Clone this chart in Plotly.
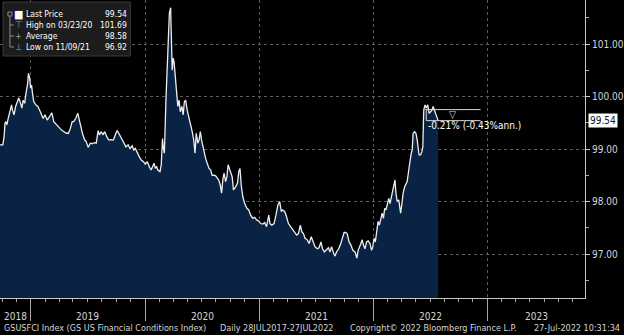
import plotly.graph_objects as go
import pandas as pd

# ---------------- data ----------------
dates = [
    "2018-09-24","2018-10-03","2018-10-07","2018-10-10","2018-10-13","2018-10-16","2018-10-20","2018-10-26",
    "2018-10-31","2018-11-03","2018-11-08","2018-11-13","2018-11-18","2018-11-23","2018-11-29","2018-12-03",
    "2018-12-07","2018-12-12","2018-12-16","2018-12-21","2018-12-24","2018-12-28","2018-12-31","2019-01-03",
    "2019-01-06","2019-01-10","2019-01-17","2019-01-23","2019-01-29","2019-02-04","2019-02-09","2019-02-15",
    "2019-02-22","2019-03-02","2019-03-09","2019-03-15","2019-03-24","2019-04-01","2019-04-09","2019-04-17",
    "2019-04-24","2019-05-01","2019-05-07","2019-05-13","2019-05-18","2019-05-24","2019-05-31","2019-06-06",
    "2019-06-11","2019-06-16","2019-06-22","2019-06-27","2019-07-03","2019-07-10","2019-07-16","2019-07-23",
    "2019-07-29","2019-08-04","2019-08-08","2019-08-14","2019-08-19","2019-08-25","2019-09-01","2019-09-07",
    "2019-09-15","2019-09-22","2019-09-28","2019-10-04","2019-10-09","2019-10-17","2019-10-24","2019-11-01",
    "2019-11-08","2019-11-14","2019-11-21","2019-11-26","2019-12-01","2019-12-07","2019-12-14","2019-12-20",
    "2019-12-27","2020-01-02","2020-01-08","2020-01-15","2020-01-21","2020-01-25","2020-01-30","2020-02-03",
    "2020-02-07","2020-02-11","2020-02-18","2020-02-22","2020-02-26","2020-02-29","2020-03-03","2020-03-08",
    "2020-03-13","2020-03-16","2020-03-19","2020-03-23","2020-03-24","2020-03-26","2020-03-28","2020-03-31",
    "2020-04-03","2020-04-06","2020-04-11","2020-04-15","2020-04-19","2020-04-23","2020-04-28","2020-05-02",
    "2020-05-06","2020-05-10","2020-05-15","2020-05-19","2020-05-23","2020-05-27","2020-05-31","2020-06-05",
    "2020-06-09","2020-06-13","2020-06-18","2020-06-22","2020-06-26","2020-06-30","2020-07-05","2020-07-09",
    "2020-07-13","2020-07-18","2020-07-24","2020-07-29","2020-08-03","2020-08-09","2020-08-14","2020-08-20",
    "2020-08-24","2020-08-29","2020-09-02","2020-09-06","2020-09-10","2020-09-15","2020-09-19","2020-09-23",
    "2020-09-28","2020-10-02","2020-10-06","2020-10-10","2020-10-17","2020-10-23","2020-10-27","2020-10-31",
    "2020-11-04","2020-11-09","2020-11-15","2020-11-22","2020-11-28","2020-12-04","2020-12-11","2020-12-17",
    "2020-12-23","2020-12-30","2021-01-05","2021-01-12","2021-01-18","2021-01-24","2021-01-31","2021-02-04",
    "2021-02-10","2021-02-17","2021-02-23","2021-03-01","2021-03-07","2021-03-12","2021-03-16","2021-03-23",
    "2021-03-29","2021-04-04","2021-04-11","2021-04-17","2021-04-23","2021-04-30","2021-05-06","2021-05-12",
    "2021-05-17","2021-05-22","2021-05-27","2021-06-03","2021-06-09","2021-06-16","2021-06-22","2021-06-28",
    "2021-07-05","2021-07-11","2021-07-17","2021-07-22","2021-07-28","2021-08-03","2021-08-10","2021-08-15",
    "2021-08-20","2021-08-27","2021-08-31","2021-09-05","2021-09-11","2021-09-17","2021-09-23","2021-09-29",
    "2021-10-04","2021-10-09","2021-10-15","2021-10-21","2021-10-27","2021-11-03","2021-11-09","2021-11-13",
    "2021-11-20","2021-11-26","2021-11-30","2021-12-05","2021-12-10","2021-12-15","2021-12-21","2021-12-26",
    "2021-12-30","2022-01-03","2022-01-07","2022-01-12","2022-01-16","2022-01-20","2022-01-25","2022-01-29",
    "2022-02-02","2022-02-06","2022-02-10","2022-02-15","2022-02-19","2022-02-23","2022-02-27","2022-03-04",
    "2022-03-08","2022-03-11","2022-03-14","2022-03-18","2022-03-23","2022-03-27","2022-03-29","2022-04-02",
    "2022-04-06","2022-04-11","2022-04-15","2022-04-19","2022-04-24","2022-04-28","2022-05-02","2022-05-05",
    "2022-05-08","2022-05-13","2022-05-17","2022-05-21","2022-05-23","2022-05-27","2022-06-01","2022-06-05",
    "2022-06-08","2022-06-11","2022-06-15","2022-06-19","2022-06-24","2022-06-28","2022-07-03","2022-07-07",
    "2022-07-11","2022-07-15","2022-07-21","2022-07-27",
]
values = [
    99.08,99.08,99.23,99.49,99.52,99.46,99.58,99.74,
    99.84,99.74,99.65,99.81,99.90,99.97,99.87,99.78,
    99.93,99.87,100.06,100.22,100.44,100.35,100.16,100.22,
    100.06,99.90,99.84,99.81,99.74,99.65,99.58,99.65,
    99.55,99.62,99.69,99.52,99.46,99.42,99.36,99.33,
    99.30,99.30,99.39,99.52,99.52,99.58,99.68,99.52,
    99.39,99.27,99.17,99.14,99.03,99.11,99.10,99.12,
    99.11,99.35,99.27,99.33,99.27,99.33,99.23,99.17,
    99.18,99.17,99.27,99.35,99.30,99.20,99.14,99.04,
    99.08,99.01,99.06,98.98,99.01,98.92,98.85,98.79,
    98.76,98.71,98.76,98.66,98.60,98.66,98.73,98.63,
    98.67,98.60,98.57,98.70,99.20,99.01,98.92,99.93,
    100.70,101.21,101.59,101.69,101.46,100.70,100.50,100.73,
    100.66,100.45,100.09,99.81,99.93,99.71,99.81,99.65,
    99.90,99.93,99.74,99.65,99.55,99.42,99.33,99.17,
    98.92,99.30,99.11,99.17,99.33,99.17,99.01,98.95,
    98.82,98.73,98.63,98.60,98.50,98.50,98.49,98.44,
    98.41,98.31,98.16,98.41,98.54,98.38,98.47,98.70,
    98.63,98.54,98.47,98.22,98.28,98.35,98.57,98.63,
    98.31,98.09,97.96,97.87,97.84,97.74,97.68,97.70,
    97.65,97.63,97.58,97.57,97.60,97.52,97.74,97.58,
    97.55,97.58,97.74,97.93,98.00,97.81,97.84,97.81,
    97.71,97.58,97.52,97.46,97.42,97.36,97.39,97.55,
    97.42,97.39,97.30,97.27,97.20,97.33,97.23,97.14,
    97.10,97.12,97.23,97.10,97.04,97.07,97.12,97.04,
    97.14,97.01,96.96,97.04,97.09,97.17,97.27,97.41,
    97.41,97.39,97.23,97.17,97.07,97.04,96.92,97.07,
    97.17,97.27,97.17,97.10,97.23,97.25,97.20,97.07,
    97.14,97.30,97.23,97.46,97.62,97.55,97.71,97.78,
    97.68,97.87,97.84,98.00,98.06,97.96,98.09,98.22,
    98.38,98.41,98.16,98.00,98.03,97.87,97.78,97.96,
    98.16,98.28,98.35,98.38,98.60,98.79,98.92,98.98,
    99.30,99.33,99.30,99.17,99.04,98.89,98.89,98.95,
    99.04,99.74,99.84,99.78,99.84,99.68,99.71,99.74,
    99.81,99.74,99.65,99.54,
]

legend_labels = ["Last Price", "High on 03/23/20", "Average", "Low on 11/09/21"]
legend_values = ["99.54", "101.69", "98.58", "96.92"]
legend_icons = ["\u25a0", "\u22a4", "+", "\u22a5"]

last_price = 99.54
ref_price = 99.75
change_text = "-0.21% (-0.43%ann.)"

year_labels = ["2018", "2019", "2020", "2021", "2022", "2023"]
x_start, x_end = "2018-09-24", "2023-11-09"
y_lo, y_hi = 96.162, 101.838
y_ticks = [97, 98, 99, 100, 101]

footer = [
    ("GSUSFCI Index (GS US Financial Conditions Index)", 2),
    ("Daily 28JUL2017-27JUL2022", 219),
    ("Copyright\u00a9 2022 Bloomberg Finance L.P.", 350),
    ("27-Jul-2022 10:31:34", 535),
]

# ---------------- style ----------------
W, H = 624, 335
ML, MR, MT, MB = 0, 36, 0, 37
PW, PH = W - ML - MR, H - MT - MB
FONT = "DejaVu Sans Condensed"
TXT = "#d6d6d6"
FILL = "#0a2244"
GRID = "#5c5c5c"

fig = go.Figure()
fig.add_trace(go.Scatter(
    x=dates, y=values, mode="lines",
    line=dict(color="#eeeeee", width=1.3),
    fill="tozeroy", fillcolor=FILL,
    hoverinfo="skip", showlegend=False,
))

# year boundary ticks and minor ticks
year_bounds = [f"{y}-01-01" for y in range(2019, 2024)]
minor_vals = []
for y in range(2018, 2024):
    for md in ["02-15", "04-01", "05-15", "07-01", "08-15", "10-01", "11-15"]:
        d = f"{y}-{md}"
        if x_start <= d <= x_end:
            minor_vals.append(d)

fig.update_xaxes(
    type="date", range=[x_start, x_end],
    tickmode="array", tickvals=year_bounds, showticklabels=False,
    ticks="outside", ticklen=22, tickcolor="#a8a8a8", tickwidth=1,
    showgrid=True, gridcolor=GRID, griddash="dot", gridwidth=1,
    showline=True, linecolor="#c8c8c8", linewidth=1,
    minor=dict(tickmode="array", tickvals=minor_vals, ticks="outside",
               ticklen=3, tickcolor="#a8a8a8", showgrid=False),
    zeroline=False, fixedrange=True,
)
fig.update_yaxes(
    side="right", range=[y_lo, y_hi],
    tickmode="array", tickvals=y_ticks, tickformat=".2f",
    ticks="outside", ticklen=4, tickcolor="#d0d0d0", tickwidth=1,
    tickfont=dict(family=FONT, size=10, color=TXT),
    showgrid=True, gridcolor=GRID, griddash="dot", gridwidth=1,
    showline=True, linecolor="#c8c8c8", linewidth=1,
    minor=dict(dtick=0.5, tick0=96, ticks="outside", ticklen=3,
               tickcolor="#a8a8a8", showgrid=False),
    zeroline=False, fixedrange=True,
)

annotations = []
shapes = []

# year labels centred in visible part of each year
xs, xe = pd.Timestamp(x_start), pd.Timestamp(x_end)
for yl in year_labels:
    lo = max(pd.Timestamp(f"{yl}-01-01"), xs)
    hi = min(pd.Timestamp(f"{int(yl)+1}-01-01"), xe)
    mid = lo + (hi - lo) / 2
    annotations.append(dict(
        x=mid.strftime("%Y-%m-%d"), xref="x", y=-18 / PH, yref="paper",
        text=yl, showarrow=False, xanchor="center", yanchor="middle",
        font=dict(family=FONT, size=10, color=TXT)))

# footer
for txt, px in footer:
    annotations.append(dict(
        x=px / PW, xref="paper", y=-30 / PH, yref="paper",
        text=txt, showarrow=False, xanchor="left", yanchor="middle",
        font=dict(family=FONT, size=9, color=TXT)))

# legend box
shapes.append(dict(type="rect", xref="paper", yref="paper",
                   x0=3 / PW, x1=131 / PW, y0=1 - 56 / PH, y1=1 - 2 / PH,
                   fillcolor="#1c1c1c", line=dict(color="#3a3a3a", width=1),
                   layer="above"))
rows_px = [14, 25, 36, 47]
for i, (lab, val, ic) in enumerate(zip(legend_labels, legend_values, legend_icons)):
    yy = 1 - rows_px[i] / PH
    annotations.append(dict(x=24 / PW, xref="paper", y=yy, yref="paper", text=lab,
                            showarrow=False, xanchor="left", yanchor="middle",
                            font=dict(family=FONT, size=8.5, color="#ffffff")))
    annotations.append(dict(x=130 / PW, xref="paper", y=yy, yref="paper", text=val,
                            showarrow=False, xanchor="right", yanchor="middle",
                            font=dict(family=FONT, size=8.5, color="#ffffff")))
    annotations.append(dict(x=19 / PW, xref="paper", y=yy, yref="paper", text=ic,
                            showarrow=False, xanchor="center", yanchor="middle",
                            font=dict(family=FONT, size=9 if i else 11,
                                      color="#ffffff" if i == 0 else "#9a9a9a")))
# tree lines in legend
shapes.append(dict(type="line", xref="paper", yref="paper",
                   x0=10 / PW, x1=10 / PW, y0=1 - 14 / PH, y1=1 - 47 / PH,
                   line=dict(color="#8a8a8a", width=1), layer="above"))
for r in rows_px[1:]:
    shapes.append(dict(type="line", xref="paper", yref="paper",
                       x0=10 / PW, x1=14 / PW, y0=1 - r / PH, y1=1 - r / PH,
                       line=dict(color="#8a8a8a", width=1), layer="above"))
shapes.append(dict(type="rect", xref="paper", yref="paper",
                   x0=8 / PW, x1=12 / PW, y0=1 - 16 / PH, y1=1 - 12 / PH,
                   fillcolor="#1c1c1c", line=dict(color="#8a8a8a", width=1),
                   layer="above"))

# change annotation near the end
c_x0, c_x1 = "2022-06-16", "2022-12-10"
shapes.append(dict(type="line", xref="x", yref="y", x0=c_x0, x1=c_x1,
                   y0=ref_price, y1=ref_price, line=dict(color="#d8d8d8", width=1)))
shapes.append(dict(type="line", xref="x", yref="y", x0="2022-06-19", x1=c_x1,
                   y0=last_price, y1=last_price, line=dict(color="#d8d8d8", width=1)))
shapes.append(dict(type="line", xref="x", yref="y", x0="2022-06-19", x1="2022-06-19",
                   y0=last_price, y1=ref_price, line=dict(color="#d8d8d8", width=1)))
annotations.append(dict(x="2022-09-12", xref="x", y=(last_price + ref_price) / 2 + 0.01,
                        yref="y", text="\u25bd", showarrow=False,
                        xanchor="center", yanchor="middle",
                        font=dict(family=FONT, size=10, color="#e0e0e0")))
annotations.append(dict(x="2022-06-17", xref="x", y=last_price - 0.1, yref="y",
                        text=change_text, showarrow=False, xanchor="left",
                        yanchor="middle",
                        font=dict(family=FONT, size=10, color="#ffffff")))

# last price tag on right axis
annotations.append(dict(x=1, xref="paper", xshift=3, y=last_price, yref="y",
                        text="99.54", showarrow=False, xanchor="left",
                        yanchor="middle", bgcolor="#ffffff", borderpad=1,
                        font=dict(family=FONT, size=10, color="#101828")))

fig.update_layout(
    width=W, height=H,
    margin=dict(l=ML, r=MR, t=MT, b=MB),
    paper_bgcolor="#000000", plot_bgcolor="#000000",
    showlegend=False,
    annotations=annotations, shapes=shapes,
)

fig.write_html("out.html")
